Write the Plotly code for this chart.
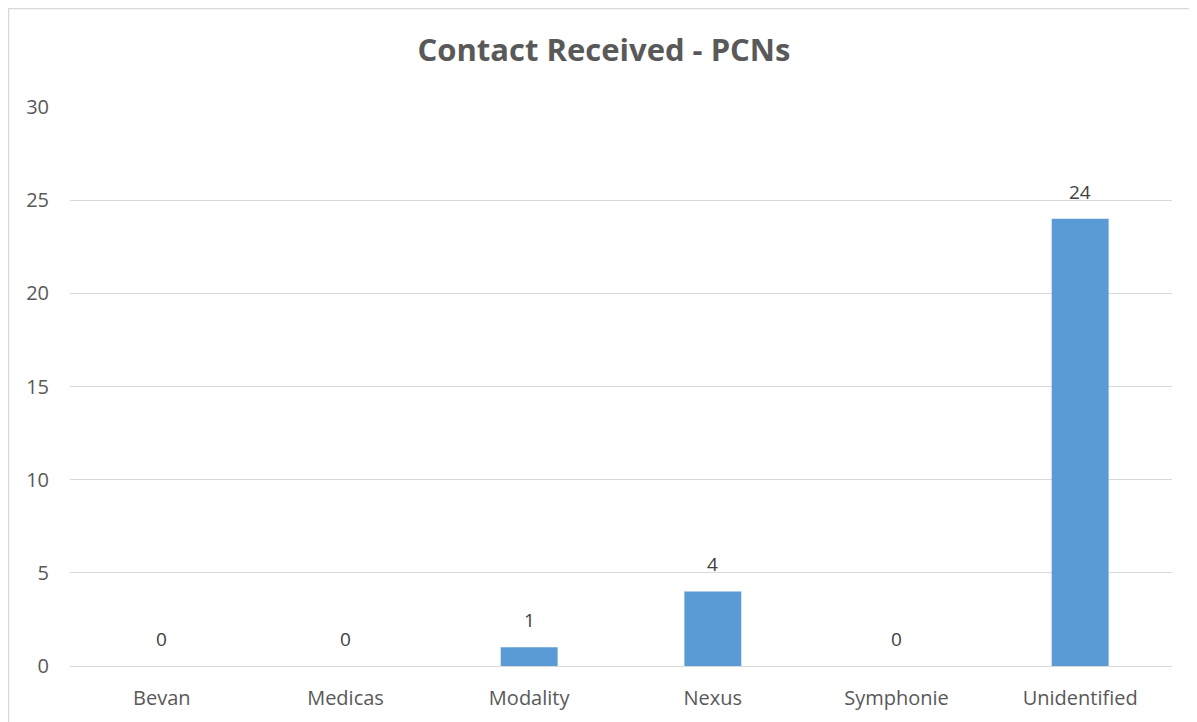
import plotly.graph_objects as go

categories = ["Bevan", "Medicas", "Modality", "Nexus", "Symphonie", "Unidentified"]
values = [0, 0, 1, 4, 0, 24]
y_ticks = [0, 5, 10, 15, 20, 25, 30]

FONT = "Open Sans"
PLOT_W = 1102
PLOT_H = 559

fig = go.Figure(
    go.Bar(
        x=categories,
        y=values,
        marker=dict(color="#5b9bd5", line=dict(width=0)),
        width=0.31,
        hoverinfo="x+y",
    )
)

for c, v in zip(categories, values):
    fig.add_annotation(
        x=c, y=v, xref="x", yref="y",
        text=str(v), showarrow=False,
        yanchor="bottom", yshift=12,
        font=dict(family=FONT, size=19, color="#404040"),
    )

fig.update_layout(
    width=1189,
    height=714,
    paper_bgcolor="white",
    plot_bgcolor="white",
    margin=dict(l=62, r=25, t=99, b=56),
    title=dict(
        text="<b>Contact Received - PCNs</b>",
        x=0.4846,
        xanchor="center",
        xref="paper",
        y=0.941,
        yanchor="middle",
        font=dict(family=FONT, size=31, color="#595959"),
    ),
    showlegend=False,
    xaxis=dict(
        showgrid=False,
        showline=True,
        linecolor="#d9d9d9",
        linewidth=1,
        ticks="",
        ticklabelstandoff=14,
        tickfont=dict(family=FONT, size=20, color="#595959"),
    ),
    yaxis=dict(
        range=[0, 30],
        tickvals=y_ticks,
        showgrid=True,
        gridcolor="#d9d9d9",
        gridwidth=1,
        zeroline=False,
        showline=False,
        ticks="",
        ticklabelstandoff=20,
        tickfont=dict(family=FONT, size=20, color="#595959"),
    ),
    shapes=[
        dict(
            type="rect",
            xref="paper",
            yref="paper",
            x0=-61.5 / PLOT_W,
            x1=1.1,
            y0=-0.2,
            y1=1 + 98.5 / PLOT_H,
            line=dict(color="#d9d9d9", width=1.5),
            fillcolor="rgba(0,0,0,0)",
            layer="below",
        )
    ],
)

fig.write_html("out.html")
